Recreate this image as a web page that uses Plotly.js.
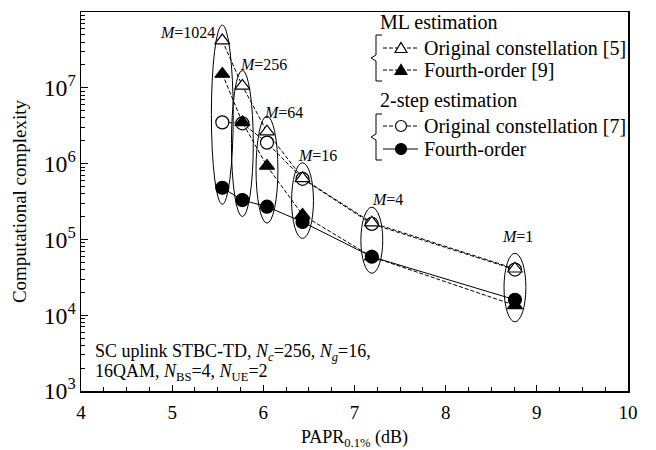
<!DOCTYPE html>
<html><head><meta charset="utf-8">
<script src="https://cdn.plot.ly/plotly-3.0.1.min.js"></script>
<style>html,body{margin:0;padding:0;background:#fff}</style>
</head><body><div id="chart" style="width:656px;height:450px"></div>
<script>
// ---- data ----
const mValues = ['1024', '256', '64', '16', '4', '1'];
const papr = [5.55, 5.77, 6.04, 6.43, 7.19, 8.76];
const mlOriginal = [4.2e7, 1.06e7, 2.64e6, 6.4e5, 1.66e5, 4.1e4];
const mlFourth = [1.52e7, 3.5e6, 9.3e5, 2.1e5, 5.9e4, 1.35e4];
const twoStepOriginal = [3.5e6, 3.4e6, 1.89e6, 6.3e5, 1.6e5, 4.0e4];
const twoStepFourth = [4.8e5, 3.3e5, 2.7e5, 1.7e5, 5.9e4, 1.6e4];
const seriesNames = ['Original constellation [5]', 'Fourth-order [9]', 'Original constellation [7]', 'Fourth-order'];
const groupHeaders = ['ML estimation', '2-step estimation'];
const xTitle = 'PAPR<sub>0.1%</sub> (dB)';
const yTitle = 'Computational complexity';
const noteLines = ['SC uplink STBC-TD, <i>N</i><sub><i>c</i></sub>=256, <i>N</i><sub><i>g</i></sub>=16,',
                   '16QAM, <i>N</i><sub>BS</sub>=4, <i>N</i><sub>UE</sub>=2'];

// ---- layout helpers ----
const FONT = '"Liberation Serif", "Times New Roman", serif';
const W = 656, H = 450, L = 81, R = 628, T = 12, B = 391;
const px = x => (x - L) / (R - L);
const py = y => (B - y) / (B - T);
const DASH = '4px,2px';

const traceStyles = [
  {symbol: 'triangle-up', fill: '#fff', dash: DASH},
  {symbol: 'triangle-up', fill: '#000', dash: DASH},
  {symbol: 'circle', fill: '#fff', dash: DASH},
  {symbol: 'circle', fill: '#000', dash: 'solid'}
];
const seriesData = [mlOriginal, mlFourth, twoStepOriginal, twoStepFourth];
const drawOrder = [2, 0, 1, 3];

const traces = drawOrder.map(i => ({
  type: 'scatter', mode: 'lines+markers', name: seriesNames[i],
  x: papr, y: seriesData[i],
  line: {color: '#000', width: 1, dash: traceStyles[i].dash},
  marker: {symbol: traceStyles[i].symbol, size: 13, color: traceStyles[i].fill,
           line: {color: '#000', width: 1.2}},
  showlegend: false, cliponaxis: false
}));

const shapes = [];
// ellipses around each M group
papr.forEach((x, k) => {
  const vals = seriesData.map(s => s[k]);
  shapes.push({type: 'circle', xref: 'x', yref: 'y',
    x0: x - 0.12, x1: x + 0.12,
    y0: Math.min(...vals) / 1.65, y1: Math.max(...vals) * 1.6,
    line: {color: '#000', width: 1}, fillcolor: 'rgba(0,0,0,0)'});
});

// custom legend
const rowsY = [48, 70, 126, 149];
const headY = [22, 100];
const sampleX0 = 383, sampleX1 = 418, markX = 401, textX = 422;
rowsY.forEach((y, i) => {
  shapes.push({type: 'line', xref: 'paper', yref: 'paper',
    x0: px(sampleX0), x1: px(sampleX1), y0: py(y), y1: py(y),
    line: {color: '#000', width: 1, dash: traceStyles[i].dash}});
  const fill = traceStyles[i].fill;
  if (traceStyles[i].symbol === 'circle') {
    shapes.push({type: 'circle', xref: 'paper', yref: 'paper',
      x0: px(markX - 5.5), x1: px(markX + 5.5), y0: py(y + 5.5), y1: py(y - 5.5),
      line: {color: '#000', width: 1.2}, fillcolor: fill});
  } else {
    const p = `M${px(markX - 6)},${py(y + 4.5)} L${px(markX + 6)},${py(y + 4.5)} L${px(markX)},${py(y - 5.5)} Z`;
    shapes.push({type: 'path', xref: 'paper', yref: 'paper', path: p,
      line: {color: '#000', width: 1.2}, fillcolor: fill});
  }
});
// brackets
[[35, 58, 81], [114, 137, 160]].forEach(([a, m, b]) => {
  const xv = 376, xt = 382, xp = 371;
  const p = `M${px(xt)},${py(a)} L${px(xv)},${py(a)} L${px(xv)},${py(m - 3)} L${px(xp)},${py(m)} L${px(xv)},${py(m + 3)} L${px(xv)},${py(b)} L${px(xt)},${py(b)}`;
  shapes.push({type: 'path', xref: 'paper', yref: 'paper', path: p, line: {color: '#000', width: 1}});
});

const annotations = [];
headY.forEach((y, i) => annotations.push({xref: 'paper', yref: 'paper', x: px(378), y: py(y),
  xanchor: 'left', yanchor: 'middle', text: groupHeaders[i], showarrow: false,
  font: {family: FONT, size: 20, color: '#000'}}));
rowsY.forEach((y, i) => annotations.push({xref: 'paper', yref: 'paper', x: px(textX), y: py(y),
  xanchor: 'left', yanchor: 'middle', text: seriesNames[i], showarrow: false,
  font: {family: FONT, size: 20, color: '#000'}}));
// M labels
const labelShift = [[-35, 8], [21, 21], [17, 19], [15, 23], [16, 23], [3, 32]];
mValues.forEach((m, k) => annotations.push({xref: 'x', yref: 'y', x: papr[k], y: Math.log10(mlOriginal[k]),
  text: '<i>M</i>=' + m, showarrow: false, xshift: labelShift[k][0], yshift: labelShift[k][1],
  font: {family: FONT, size: 16, color: '#000'}}));
// note
[352, 372.5].forEach((y, i) => annotations.push({xref: 'paper', yref: 'paper', x: px(93), y: py(y),
  xanchor: 'left', yanchor: 'middle', text: noteLines[i], showarrow: false,
  font: {family: FONT, size: 18, color: '#000'}}));

const layout = {
  width: W, height: H,
  margin: {l: L, r: W - R, t: T, b: H - B, pad: 0},
  paper_bgcolor: '#fff', plot_bgcolor: '#fff',
  font: {family: FONT, size: 18, color: '#000'},
  showlegend: false,
  xaxis: {range: [4, 10], dtick: 1, tick0: 4, ticks: 'inside', ticklen: 6, tickwidth: 1,
    tickcolor: '#000', showgrid: false, zeroline: false, showline: true, linecolor: '#000',
    linewidth: 1.5, mirror: true, tickfont: {family: FONT, size: 19}, ticklabelstandoff: 4,
    minor: {dtick: 0.25, ticks: 'inside', ticklen: 4, tickcolor: '#000', showgrid: false},
    title: {text: xTitle, font: {family: FONT, size: 18}, standoff: 8}},
  yaxis: {type: 'log', range: [3, 8], dtick: 1, exponentformat: 'power', ticks: 'inside',
    ticklen: 7, tickwidth: 1, tickcolor: '#000', showgrid: false, zeroline: false,
    showline: true, linecolor: '#000', linewidth: 1.5, mirror: true,
    tickfont: {family: FONT, size: 19},
    minor: {dtick: 'D1', ticks: 'inside', ticklen: 4, tickcolor: '#000', showgrid: false},
    title: {text: yTitle, font: {family: FONT, size: 19}, standoff: 12}},
  shapes: shapes, annotations: annotations
};

Plotly.newPlot('chart', traces, layout, {staticPlot: true, displayModeBar: false});
</script></body></html>
